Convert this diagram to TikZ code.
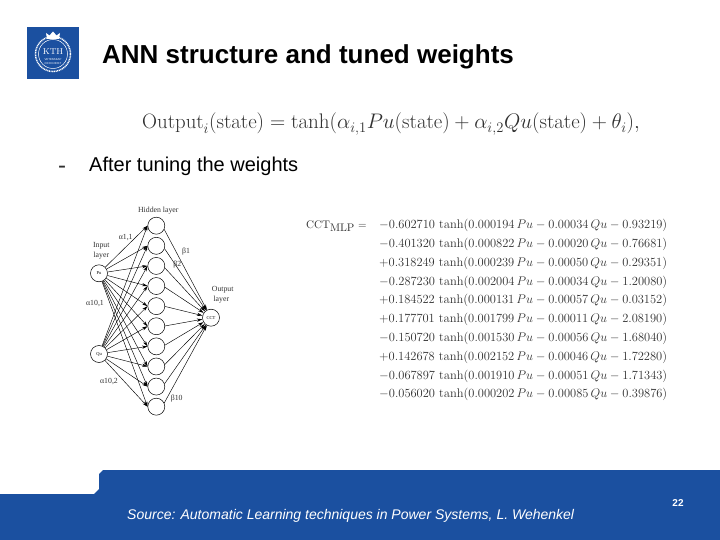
\documentclass[tikz,border=0pt]{standalone}
\usepackage{amsmath}
\usepackage{graphicx}
\usepackage[no-math]{fontspec}
\setmainfont{Liberation Sans}
\newfontfamily\serifcm{Latin Modern Roman}
\newfontfamily\timesf{Liberation Serif}
\usetikzlibrary{arrows.meta}
\definecolor{kthblue}{HTML}{1B50A0}
\definecolor{eqgray}{HTML}{303030}
\newcommand{\fs}[1]{\fontsize{#1}{#1}\selectfont}
\tikzset{
  x=1pt,y=-1pt,
  neuron/.style={circle,draw=black,line width=.5pt,fill=white,minimum size=17pt,inner sep=0pt,font=\timesf\fs{4.5}},
  netlabel/.style={inner sep=0pt,font=\timesf\fs{7.8},text=black!80},
  link/.style={line width=.45pt,-{Stealth[length=5.5pt,width=3.2pt]}},
  eqrow/.style={anchor=west,inner sep=0pt,text=eqgray,font=\fs{12}},
}
\begin{document}
\begin{tikzpicture}
\useasboundingbox (0,0) rectangle (720,540);
% footer
\fill[kthblue] (0,494) -- (94,494) -- (99,489) -- (99,474) -- (103,470) -- (720,470) -- (720,540) -- (0,540) -- cycle;
% logo
\fill[kthblue] (27,27) rectangle (79,79);
\draw[white,line width=1.5pt,dash pattern=on 1pt off .7pt] (53,54) circle (17.5);
\draw[white,line width=.5pt] (53,54) circle (14.5);
\fill[white] (47,39) -- (46,33) -- (49.5,35.5) -- (53,31.5) -- (56.5,35.5) -- (60,33) -- (59,39) -- cycle;
\node[inner sep=0pt,text=white,font=\serifcm\fs{8.5}] (logotext) at (53,52) {KTH};
\node[inner sep=0pt,text=white,font=\fs{2.8}] (logosub) at (53,59.5) {VETENSKAP};
\node[inner sep=0pt,text=white,font=\fs{2.8}] (logosub2) at (53,63.5) {OCH KONST};
% headings
\node[anchor=west,inner sep=0pt,font=\bfseries\fs{26}] (title) at (102,57) {ANN structure and tuned weights};
\node[anchor=west,inner sep=0pt,text=eqgray,font=\fs{24}] (dash) at (58,170) {-};
\node[anchor=west,inner sep=0pt,font=\fs{20}] (sub) at (89,166.5) {After tuning the weights};
\node[anchor=west,inner sep=0pt,text=eqgray] (formula) at (142,124) {\scalebox{1.016}{\fs{20.45}\serifcm$\displaystyle\text{Output}_i(\text{state})=\tanh(\alpha_{i,1}Pu(\text{state})+\alpha_{i,2}Qu(\text{state})+\theta_i),$}};
% network
\node[neuron] (pu) at (99,273.3) {Pu};
\node[neuron] (qu) at (99,354) {Qu};
\node[neuron] (cct) at (211,317.7) {CCT};
\foreach \i in {1,...,10}{
  \pgfmathsetmacro{\ang}{-25+(\i-1)*50/9}
  \node[neuron] (h\i) at (156.3,{225.7+(\i-1)*20.11}) {};
  \draw[link] (pu) -- (h\i.west);
  \draw[link] (qu) -- (h\i.west);
  \draw[link] (h\i.\ang) -- (cct);
}
\node[netlabel] (lh) at (158.3,210.7) {Hidden layer};
\node[netlabel] (li1) at (101.3,245.7) {Input};
\node[netlabel] (li2) at (101.3,255.3) {layer};
\node[netlabel] (lo1) at (222.7,290) {Output};
\node[netlabel] (lo2) at (221.3,300) {layer};
\node[netlabel] (a11) at (125.7,237.3) {α1,1};
\node[netlabel] (a101) at (95,303.3) {α10,1};
\node[netlabel] (a102) at (109,381.7) {α10,2};
\node[netlabel] (b1) at (186,251.7) {β1};
\node[netlabel] (b2) at (177.3,265) {β2};
\node[netlabel] (b10) at (176.7,399) {β10};
% expression
\node[anchor=west,inner sep=0pt,text=eqgray,font=\serifcm\fs{11}] (cctmlp) at (306,226) {CCT\raisebox{-3pt}{MLP} =};
\foreach \s/\c/\a/\b/\d [count=\n from 0] in {
 -/0.602710/0.000194/0.00034/0.93219,
 -/0.401320/0.000822/0.00020/0.76681,
 +/0.318249/0.000239/0.00050/0.29351,
 -/0.287230/0.002004/0.00034/1.20080,
 +/0.184522/0.000131/0.00057/0.03152,
 +/0.177701/0.001799/0.00011/2.08190,
 -/0.150720/0.001530/0.00056/1.68040,
 +/0.142678/0.002152/0.00046/1.72280,
 -/0.067897/0.001910/0.00051/1.71343,
 -/0.056020/0.000202/0.00085/0.39876}{
  \node[eqrow] (row\n) at (379,{225.5+\n*18.8}) {\scalebox{1.04}{$\s\c\,\tanh(\a\,Pu-\b\,Qu-\d)$}};
}
% footer text
\node[anchor=west,inner sep=0pt,text=white,font=\itshape\fs{14}] (source) at (127,515.5) {Source: Automatic Learning techniques in Power Systems, L. Wehenkel};
\node[inner sep=0pt,text=white,font=\bfseries\fs{10}] (page) at (678,503.5) {22};
\end{tikzpicture}
\end{document}
